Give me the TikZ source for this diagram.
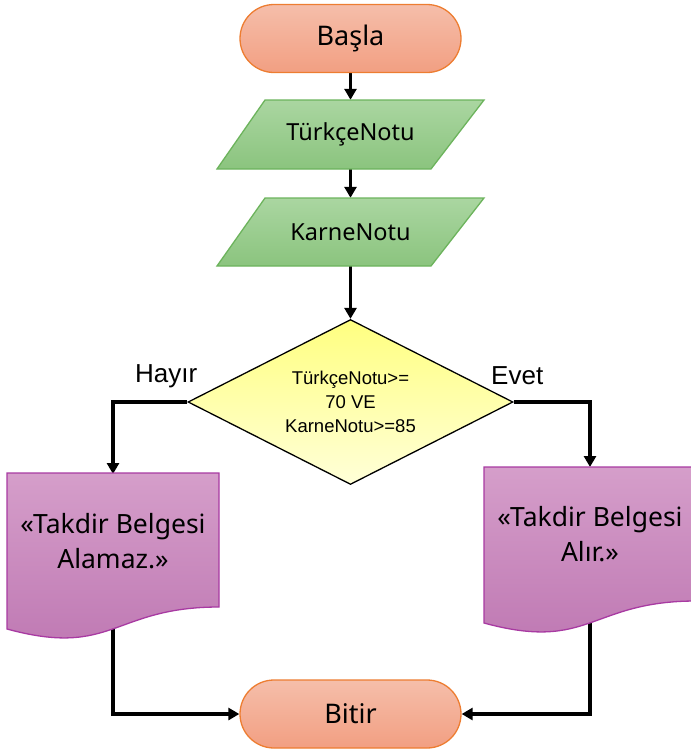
\documentclass[tikz,border=0pt]{standalone}
\usepackage{fontspec}
\setmainfont{Noto Sans}
\newfontfamily\arialf{Liberation Sans}
\usetikzlibrary{arrows.meta,backgrounds,shapes.geometric}
\definecolor{termtop}{HTML}{F5BEAA}
\definecolor{termbot}{HTML}{F29F82}
\definecolor{termedge}{HTML}{ED7D31}
\definecolor{intop}{HTML}{AAD6A1}
\definecolor{inbot}{HTML}{8BC47E}
\definecolor{inedge}{HTML}{6CB35C}
\definecolor{diatop}{HTML}{FFFF80}
\definecolor{diabot}{HTML}{FFFFD8}
\definecolor{doctop}{HTML}{D59ECA}
\definecolor{docbot}{HTML}{BE77B2}
\definecolor{docedge}{HTML}{A83AA2}
\begin{document}
\begin{tikzpicture}[x=1pt,y=-1pt,
  terminal/.style={rectangle, rounded corners=34pt, minimum width=221pt, minimum height=68pt,
    draw=termedge, line width=1.3pt, top color=termtop, bottom color=termbot,
    font=\fontsize{27}{30}\selectfont, inner sep=0pt},
  inshape/.style={draw=inedge, line width=1.3pt, top color=intop, bottom color=inbot},
  intext/.style={rectangle, minimum width=170pt, minimum height=69pt, inner sep=0pt,
    font=\fontsize{23.5}{28}\selectfont},
  decision/.style={diamond, minimum width=325pt, minimum height=165pt, aspect=1.97, inner sep=0pt,
    draw=black, line width=1.3pt, top color=diatop, bottom color=diabot},
  dtext/.style={align=center, inner sep=0pt, font=\arialf\fontsize{18.5}{24}\selectfont},
  docshape/.style={draw=docedge, line width=1.3pt, top color=doctop, bottom color=docbot},
  doctext/.style={rectangle, minimum width=212pt, minimum height=134pt, inner sep=0pt,
    align=center, font=\fontsize{26.5}{35}\selectfont},
  lab/.style={inner sep=0pt, font=\arialf\fontsize{26}{30}\selectfont},
  conn/.style={line width=3.3pt, -{Triangle[width=12pt,length=11pt]}}
]
\useasboundingbox (0,0) rectangle (691,753);

% Start
\node[terminal] (start) at (350.5,38.5) {Başla};

% Inputs
\path[inshape] (265,100) -- (484,100) -- (431,169) -- (217,169) -- cycle;
\node[intext] (tn) at (350.5,134.5) {TürkçeNotu};
\path[inshape] (265,198) -- (484,198) -- (431,266) -- (217,266) -- cycle;
\node[intext, minimum height=68pt] (kn) at (350.5,232) {KarneNotu};

% Decision
\node[decision] (dec) at (350.5,402) {};
\node[dtext] (dt) at (350.5,402) {TürkçeNotu>=\\70 VE\\KarneNotu>=85};

% Labels
\node[lab, anchor=base west] (hay) at (135,382) {Hayır};
\node[lab, anchor=base west] (evt) at (491,384) {Evet};

% Documents
\path[docshape] (7,473) -- (219,473) -- (219,607) .. controls (113,607) and (113,658) .. (7,629) -- cycle;
\node[doctext, anchor=north] (ldoc) at (113,474) {«Takdir Belgesi\\Alamaz.»};
\path[docshape] (484,467) -- (696,467) -- (696,601) .. controls (590,601) and (590,652) .. (484,623) -- cycle;
\node[doctext, anchor=north] (rdoc) at (590,467) {«Takdir Belgesi\\Alır.»};

% End
\node[terminal] (stop) at (350.5,714) {Bitir};

% Connectors
\begin{scope}[on background layer]
  \draw[conn] (start.south) -- (tn.north);
  \draw[conn] (tn.south) -- (kn.north);
  \draw[conn] (kn.south) -- (dec.north);
  \draw[conn] (dec.west) -| (ldoc.north);
  \draw[conn] (dec.east) -| (rdoc.north);
  \draw[conn] (ldoc.south) |- (stop.west);
  \draw[conn] (rdoc.south) |- (stop.east);
\end{scope}
\end{tikzpicture}
\end{document}
